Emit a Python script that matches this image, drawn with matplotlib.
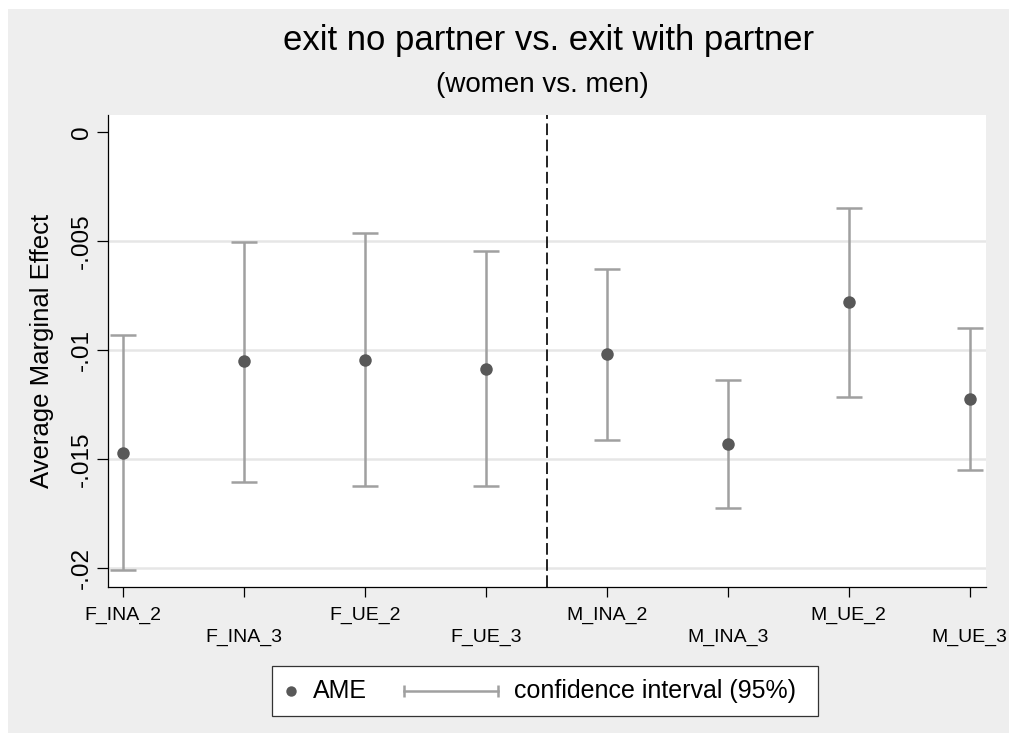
import matplotlib
matplotlib.use('Agg')
import matplotlib.pyplot as plt
from matplotlib.patches import Rectangle
from matplotlib.lines import Line2D
import numpy as np

plt.rcParams['font.family'] = ['Liberation Sans', 'DejaVu Sans']

# ---- data ----
categories = ['F_INA_2', 'F_INA_3', 'F_UE_2', 'F_UE_3',
              'M_INA_2', 'M_INA_3', 'M_UE_2', 'M_UE_3']
ame = [-0.01472, -0.01052, -0.01044, -0.01087,
       -0.01020, -0.01430, -0.00782, -0.01225]
ci_upper = [-0.00933, -0.00505, -0.00463, -0.00548,
            -0.00630, -0.01138, -0.00349, -0.00898]
ci_lower = [-0.02009, -0.01606, -0.01626, -0.01626,
            -0.01415, -0.01727, -0.01214, -0.01550]
yticks = [0, -0.005, -0.01, -0.015, -0.02]
ytick_labels = ['0', '-.005', '-.01', '-.015', '-.02']
title = 'exit no partner vs. exit with partner'
subtitle = '(women vs. men)'
ylabel = 'Average Marginal Effect'
legend_labels = ['AME', 'confidence interval (95%)']

# ---- styling ----
W, H = 1009, 733
BG = '#EEEEEE'
CI_COLOR = '#A0A0A0'
PT_COLOR = '#585858'

fig = plt.figure(figsize=(W / 100, H / 100), dpi=100)
fig.patch.set_facecolor('white')


def fx(px):
    return px / W


def fy(py):
    return 1 - py / H


fig.add_artist(Rectangle((fx(8), 0), 1 - fx(8), fy(9), transform=fig.transFigure,
                         facecolor=BG, edgecolor='none', zorder=0))

ax = fig.add_axes([fx(108), fy(587), fx(986) - fx(108), fy(115) - fy(587)])
ax.set_facecolor('white')
for s in ['top', 'right']:
    ax.spines[s].set_visible(False)
for s in ['left', 'bottom']:
    ax.spines[s].set_linewidth(0.9)
    ax.spines[s].set_color('black')

x = np.arange(1, len(categories) + 1)
ame_a = np.array(ame)
lo = np.array(ci_lower)
hi = np.array(ci_upper)

for yv in yticks[1:]:
    ax.axhline(yv, color='#E6E6E6', lw=1.8, zorder=1)

ax.axvline((len(categories) + 1) / 2, color='#222222', lw=1.4,
           ls=(0, (6, 2.3)), zorder=2)

ax.errorbar(x, ame_a, yerr=[ame_a - lo, hi - ame_a], fmt='none',
            ecolor=CI_COLOR, elinewidth=1.8, capsize=9.5, capthick=1.8, zorder=3)
ax.plot(x, ame_a, 'o', color=PT_COLOR, ms=9, mec='none', zorder=4)

ax.set_xlim(0.873, 8.135)
ax.set_ylim(-0.02087, 0.00077)

ax.set_xticks(x[::2], categories[::2])
ax.set_xticks(x[1::2], categories[1::2], minor=True)
ax.tick_params(axis='x', which='both', length=7, width=0.9, direction='out',
               labelsize=14, colors='black')
ax.tick_params(axis='x', which='major', pad=7)
ax.tick_params(axis='x', which='minor', pad=23)

ax.set_yticks(yticks, ytick_labels)
ax.tick_params(axis='y', length=8, width=0.9, direction='out', labelsize=17.5,
               labelrotation=90, pad=3)
for lab in ax.get_yticklabels():
    lab.set_va('center')

# titles
fig.text(fx(549), fy(50), title, ha='center', va='baseline', fontsize=25)
fig.text(fx(542), fy(92), subtitle, ha='center', va='baseline', fontsize=20)
fig.text(fx(42), fy(351), ylabel, ha='center', va='center', rotation=90, fontsize=18.5)

# legend (Stata style)
fig.add_artist(Rectangle((fx(272), fy(716)), fx(818) - fx(272), fy(666) - fy(716),
                         transform=fig.transFigure, facecolor='white',
                         edgecolor='#333333', lw=0.9, zorder=5))
ly = fy(691)
fig.add_artist(Line2D([fx(291)], [ly], transform=fig.transFigure, marker='o',
                      ms=7.5, color=PT_COLOR, mec='none', ls='none', zorder=6))
fig.text(fx(313), ly, legend_labels[0], ha='left', va='center', fontsize=18, zorder=6)
fig.add_artist(Line2D([fx(404), fx(498)], [ly, ly], transform=fig.transFigure,
                      color=CI_COLOR, lw=1.8, zorder=6))
for xe in (404, 498):
    fig.add_artist(Line2D([fx(xe)], [ly], transform=fig.transFigure, marker='|',
                          ms=9, mew=1.8, color=CI_COLOR, ls='none', zorder=6))
fig.text(fx(514), ly, legend_labels[1], ha='left', va='center', fontsize=18, zorder=6)

fig.savefig('out.png', dpi=100, facecolor=fig.get_facecolor())
